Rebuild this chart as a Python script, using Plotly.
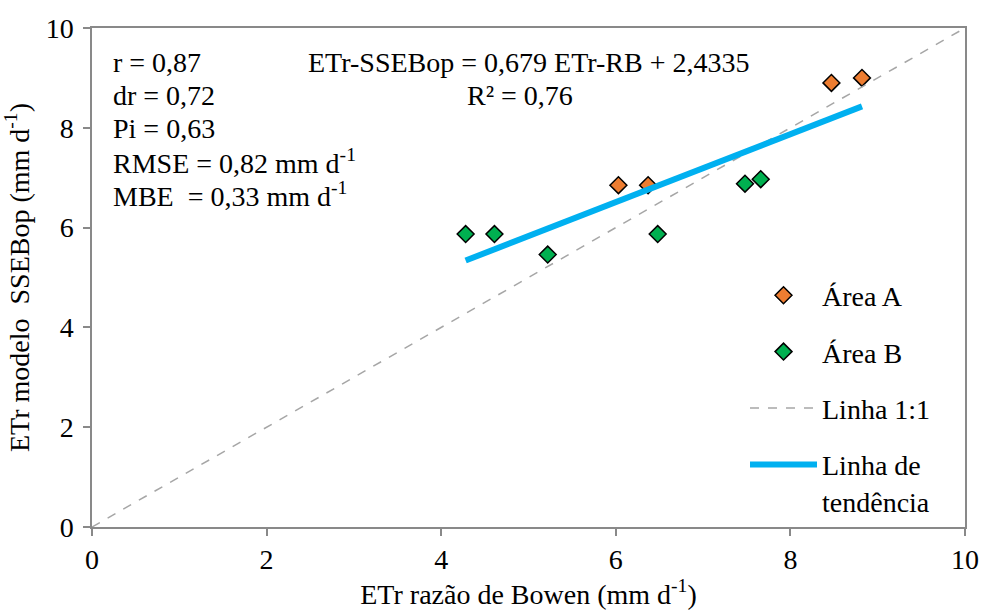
import plotly.graph_objects as go

# Data
area_a_x = [6.03, 6.37, 8.47, 8.82]
area_a_y = [6.85, 6.85, 8.90, 9.00]
area_b_x = [4.28, 4.61, 5.22, 6.48, 7.48, 7.66]
area_b_y = [5.87, 5.87, 5.46, 5.87, 6.88, 6.97]
line11_x = [0, 10]
line11_y = [0, 10]
trend_x = [4.28, 8.82]
trend_y = [5.34, 8.43]
tick_vals = [0, 2, 4, 6, 8, 10]
stats_lines = ["r = 0,87", "dr = 0,72", "Pi = 0,63",
               "RMSE = 0,82 mm d<sup>-1</sup>", "MBE  = 0,33 mm d<sup>-1</sup>"]
equation_lines = ["ETr-SSEBop = 0,679 ETr-RB + 2,4335", "R² = 0,76"]
equation_x = [5.0, 4.9]

FONT = "Liberation Serif"
fs = 28

fig = go.Figure()
fig.add_trace(go.Scatter(x=area_a_x, y=area_a_y, mode="markers", name="Área A",
                         legendgroup="a",
                         marker=dict(symbol="diamond", size=13, color="#ED7D31",
                                     line=dict(color="black", width=1.5))))
fig.add_trace(go.Scatter(x=area_b_x, y=area_b_y, mode="markers", name="Área B",
                         legendgroup="b",
                         marker=dict(symbol="diamond", size=13, color="#00B050",
                                     line=dict(color="black", width=1.5))))
fig.add_trace(go.Scatter(x=line11_x, y=line11_y, mode="lines", name="Linha 1:1",
                         legendgroup="c",
                         line=dict(color="#A6A6A6", width=1.5, dash="dash")))
fig.add_trace(go.Scatter(x=trend_x, y=trend_y, mode="lines", name="Linha de<br>tendência",
                         legendgroup="d",
                         line=dict(color="#00B0F0", width=6)))

annotations = []
for i, t in enumerate(stats_lines):
    annotations.append(dict(x=0.22, y=9.31 - i * 0.66, xref="x", yref="y", text=t,
                            showarrow=False, xanchor="left", yanchor="middle",
                            font=dict(family=FONT, size=fs, color="black")))
for i, t in enumerate(equation_lines):
    annotations.append(dict(x=equation_x[i], y=9.31 - i * 0.66, xref="x", yref="y", text=t,
                            showarrow=False, xanchor="center", yanchor="middle",
                            font=dict(family=FONT, size=fs, color="black")))

axis_common = dict(range=[0, 10], tickvals=tick_vals, showgrid=False, zeroline=False,
                   showline=True, linecolor="#898989", linewidth=1.5, mirror=True,
                   ticks="outside", ticklen=7, tickcolor="#898989", tickwidth=1.5,
                   automargin=False,
                   tickfont=dict(family=FONT, size=fs, color="black"))

fig.update_layout(
    width=984, height=610,
    margin=dict(l=92, r=19, t=28, b=83),
    paper_bgcolor="white", plot_bgcolor="white",
    font=dict(family=FONT, size=fs, color="black"),
    xaxis=dict(**axis_common,
               title=dict(text="ETr razão de Bowen (mm d<sup>-1</sup>)",
                          font=dict(family=FONT, size=fs), standoff=10)),
    yaxis=dict(**axis_common, ticklabelstandoff=4,
               title=dict(text="ETr modelo  SSEBop (mm d<sup>-1</sup>)",
                          font=dict(family=FONT, size=fs), standoff=9)),
    legend=dict(x=0.748, y=0.514, xanchor="left", yanchor="top",
                bgcolor="rgba(0,0,0,0)", tracegroupgap=17, valign="top",
                font=dict(family=FONT, size=fs), itemwidth=67),
    annotations=annotations,
    showlegend=True,
)

fig.write_html("out.html", config={"displayModeBar": False},
               post_script="document.body.style.margin='0';document.body.style.overflow='hidden';")
